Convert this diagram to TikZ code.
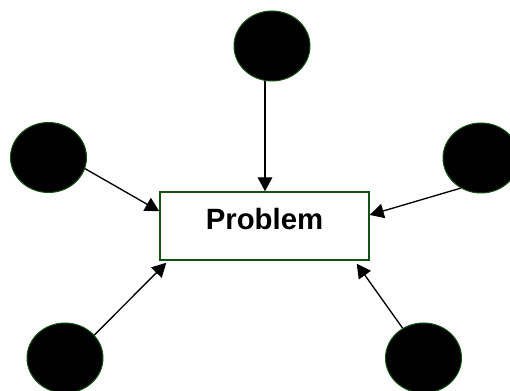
\documentclass[tikz,border=0pt]{standalone}
\usepackage{fontspec}
\setmainfont{Liberation Sans}
\usetikzlibrary{shapes.geometric,arrows.meta,calc}
\definecolor{dkgreen}{RGB}{20,80,20}
\tikzset{
  blob/.style={ellipse, fill=black, draw=dkgreen, line width=0.75pt, inner sep=0pt,
    minimum width=57pt, minimum height=52.5pt},
  probbox/.style={draw=dkgreen, line width=1.1pt, fill=white, inner sep=0pt,
    minimum width=156.75pt, minimum height=51pt, text height=15.6pt, text depth=9.6pt,
    font=\fontsize{22pt}{24pt}\selectfont\bfseries},
  conn/.style={line width=1pt, -{Triangle[length=10.5pt,width=11pt]}}
}
\begin{document}
\begin{tikzpicture}[x=0.75pt,y=-0.75pt]
\useasboundingbox (0,0) rectangle (510,391);
\node[probbox] (box) at (264.5,226) {Problem};
\node[blob] (ctop) at (272,46) {};
\node[blob] (cleft) at (48.5,157.5) {};
\node[blob] (cright) at (481,158) {};
\node[blob] (cbl) at (65,358) {};
\node[blob] (cbr) at (423.5,358) {};
\draw[conn] ($(ctop.south)+(-7,0)$) -- ($(box.north)+(0.5,0)$);
\draw[conn] (cleft.-17.5) -- (box.172.9);
\draw[conn] (cright.236) -- (box.6.5);
\draw[conn] (cbl.38) -- ($(box.south west)+(7,2)$);
\draw[conn] (cbr.125.8) -- ($(box.south east)+(-13,3)$);
\end{tikzpicture}
\end{document}
